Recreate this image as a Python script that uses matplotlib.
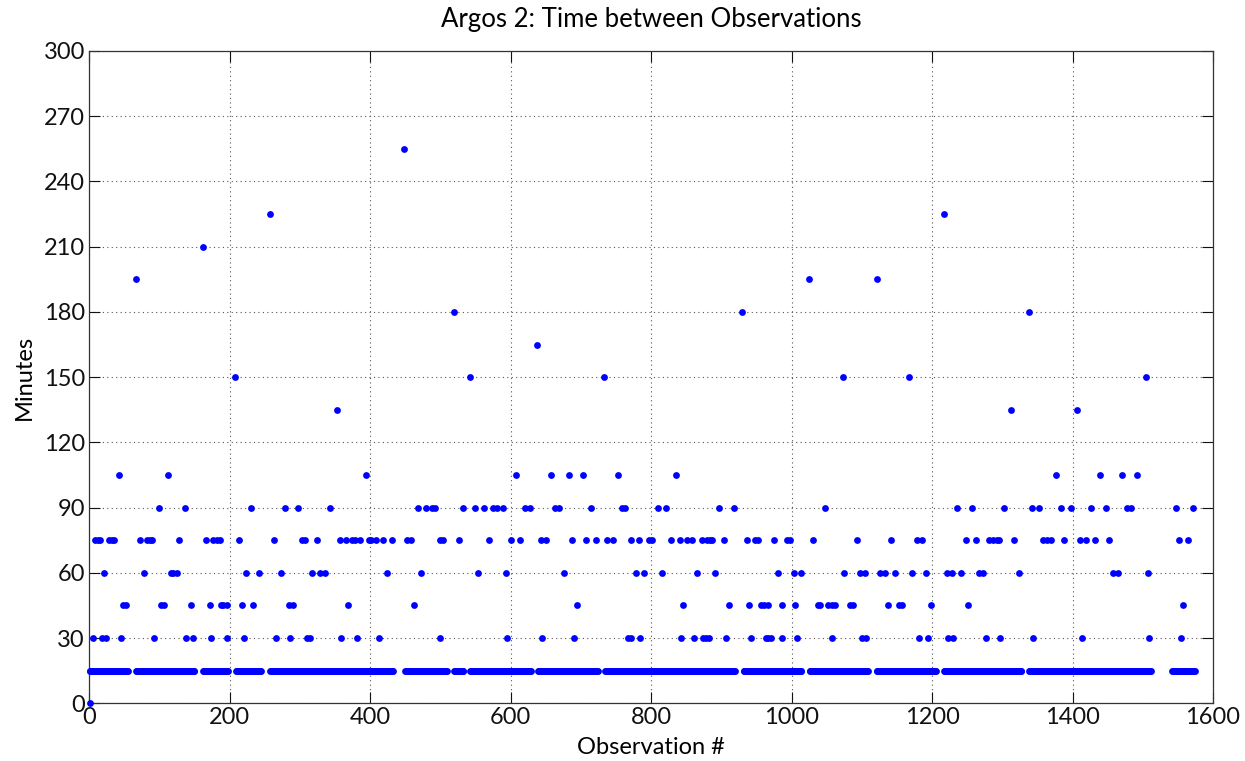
import numpy as np
import matplotlib
matplotlib.use("Agg")
import matplotlib.pyplot as plt

# Observation # ranges where the gap was 15 minutes (the dense bottom row)
runs_15 = [(1, 55), (67, 150), (162, 198), (209, 245), (258, 433), (450, 509),
           (520, 533), (543, 629), (639, 724), (735, 919), (932, 1014),
           (1026, 1109), (1121, 1205), (1217, 1327), (1338, 1512), (1542, 1574)]

# Observation numbers for every other level (minutes)
obs_0 = [1]
obs_30 = [5, 18, 24, 46, 93, 138, 148, 173, 197, 220, 266, 286, 311, 314, 359,
          381, 413, 500, 595, 645, 691, 767, 772, 785, 842, 861, 874, 878, 882,
          907, 943, 963, 967, 971, 987, 1008, 1057, 1100, 1106, 1181, 1195,
          1223, 1230, 1277, 1297, 1344, 1414, 1509, 1554]
obs_45 = [49, 53, 102, 107, 145, 172, 188, 191, 196, 218, 234, 284, 290, 368,
          462, 694, 846, 911, 940, 956, 961, 966, 986, 1005, 1038, 1041, 1052,
          1057, 1062, 1083, 1088, 1137, 1153, 1157, 1198, 1251, 1558]
obs_60 = [21, 78, 116, 120, 125, 224, 242, 273, 318, 329, 336, 424, 473, 554,
          594, 676, 778, 790, 816, 866, 891, 981, 1003, 1013, 1075, 1097, 1104,
          1126, 1133, 1147, 1171, 1191, 1222, 1228, 1241, 1267, 1273, 1324,
          1457, 1465, 1508]
obs_75 = [8, 13, 16, 29, 33, 36, 73, 82, 87, 90, 128, 167, 177, 182, 186, 213,
          263, 303, 308, 324, 357, 366, 374, 378, 386, 398, 402, 409, 419, 431,
          453, 459, 499, 504, 527, 570, 601, 613, 644, 650, 688, 708, 721, 738,
          746, 772, 783, 797, 802, 828, 841, 851, 859, 872, 879, 884, 887, 904,
          937, 948, 953, 975, 993, 998, 1031, 1093, 1141, 1178, 1186, 1248,
          1262, 1281, 1287, 1292, 1296, 1317, 1358, 1363, 1369, 1388, 1411,
          1419, 1432, 1452, 1552, 1565]
obs_90 = [100, 136, 230, 279, 298, 343, 469, 480, 488, 493, 532, 549, 562, 575,
          581, 589, 620, 628, 663, 669, 715, 758, 763, 810, 822, 897, 918, 1047,
          1236, 1257, 1303, 1343, 1353, 1383, 1398, 1426, 1447, 1477, 1483,
          1547, 1572]
obs_105 = [42, 112, 394, 608, 657, 683, 703, 753, 836, 1376, 1439, 1471, 1492]
obs_135 = [353, 1312, 1407]
obs_150 = [208, 542, 733, 1073, 1167, 1504]
obs_165 = [638]
obs_180 = [520, 930, 1338]
obs_195 = [67, 1025, 1121]
obs_210 = [162]
obs_225 = [257, 1217]
obs_255 = [449]

levels = {0: obs_0, 30: obs_30, 45: obs_45, 60: obs_60, 75: obs_75, 90: obs_90,
          105: obs_105, 135: obs_135, 150: obs_150, 165: obs_165, 180: obs_180,
          195: obs_195, 210: obs_210, 225: obs_225, 255: obs_255}

x = [n for a, b in runs_15 for n in range(a, b + 1)]
y = [15] * len(x)
for minutes, nums in levels.items():
    x += nums
    y += [minutes] * len(nums)
x = np.array(x)
y = np.array(y)

plt.rcParams['font.family'] = ['Lato', 'DejaVu Sans']

fig = plt.figure(figsize=(12.45, 7.61), dpi=100)
ax = fig.add_axes([0.0715, 0.0758, 0.9028, 0.8572])

ax.plot(x, y, linestyle='none', marker='o', markersize=4.9, color='#0000ff',
        markeredgewidth=0, clip_on=False, zorder=3)

ax.set_xlim(0, 1600)
ax.set_ylim(0, 300)
ax.set_xticks(np.arange(0, 1601, 200))
ax.set_yticks(np.arange(0, 301, 30))

ax.grid(True, color='#555555', linestyle=(0, (1, 3)), linewidth=0.8)
ax.set_axisbelow(True)
ax.tick_params(direction='in', length=8, width=0.8, top=True, right=True,
               labelsize=17, colors='#111111', pad=3)
for sp in ax.spines.values():
    sp.set_color('#333333')
    sp.set_linewidth(0.9)

ax.set_title('Argos 2: Time between Observations', fontsize=18.5, pad=17)
ax.set_xlabel('Observation #', fontsize=17, labelpad=6)
ax.set_ylabel('Minutes', fontsize=17, labelpad=6)

fig.savefig('out.png', dpi=100)
